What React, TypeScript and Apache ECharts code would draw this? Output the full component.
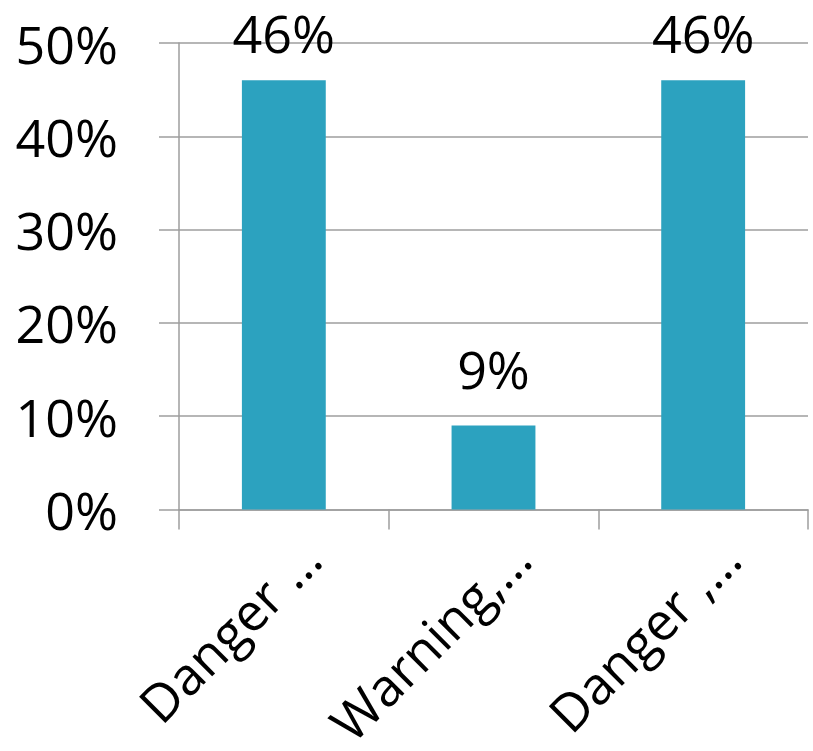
import React, { useEffect, useRef } from "react";
import * as echarts from "echarts";

const categories = ["Danger …", "Warning,…", "Danger ,…"];
const values = [46, 9, 46];
const yTicks = [0, 10, 20, 30, 40, 50];

export default function App() {
  const ref = useRef<HTMLDivElement>(null);
  useEffect(() => {
    if (!ref.current) return;
    const chart = echarts.init(ref.current, null, { renderer: "svg" });
    const font = "Open Sans";
    const gridColor = "#9e9e9e";
    chart.setOption({
      animation: false,
      grid: { left: 179, right: 5, top: 43, bottom: 238 },
      xAxis: {
        type: "category",
        data: categories,
        axisLine: { show: true, lineStyle: { color: gridColor, width: 1.5 } },
        axisTick: { show: true, length: 20, lineStyle: { color: gridColor, width: 1.5 } },
        axisLabel: {
          rotate: 45,
          margin: 66,
          padding: [0, -38, 0, 0],
          fontFamily: font,
          fontSize: 52,
          color: "#000",
        },
      },
      yAxis: {
        type: "value",
        min: yTicks[0],
        max: yTicks[yTicks.length - 1],
        interval: 10,
        axisLine: { show: true, lineStyle: { color: gridColor, width: 1.5 } },
        axisTick: { show: true, length: 20, lineStyle: { color: gridColor, width: 1.5 } },
        splitLine: { show: true, lineStyle: { color: gridColor, width: 1.5 } },
        axisLabel: {
          margin: 61,
          fontFamily: font,
          fontSize: 52,
          color: "#000",
          formatter: (v: number) => `${v}%`,
        },
      },
      series: [
        {
          type: "bar",
          data: values.map((v) => ({
            value: v,
            label: { distance: v > 40 ? 22 : 31 },
          })),
          barWidth: "40%",
          itemStyle: { color: "#2ca2bf" },
          label: {
            show: true,
            position: "top",
            fontFamily: font,
            fontSize: 52,
            color: "#000",
            formatter: (p: any) => `${p.value}%`,
          },
        },
      ],
    });
    return () => chart.dispose();
  }, []);
  return (
    <div
      ref={ref}
      style={{ position: "fixed", left: 0, top: 0, width: 813, height: 751, overflow: "hidden" }}
    />
  );
}
